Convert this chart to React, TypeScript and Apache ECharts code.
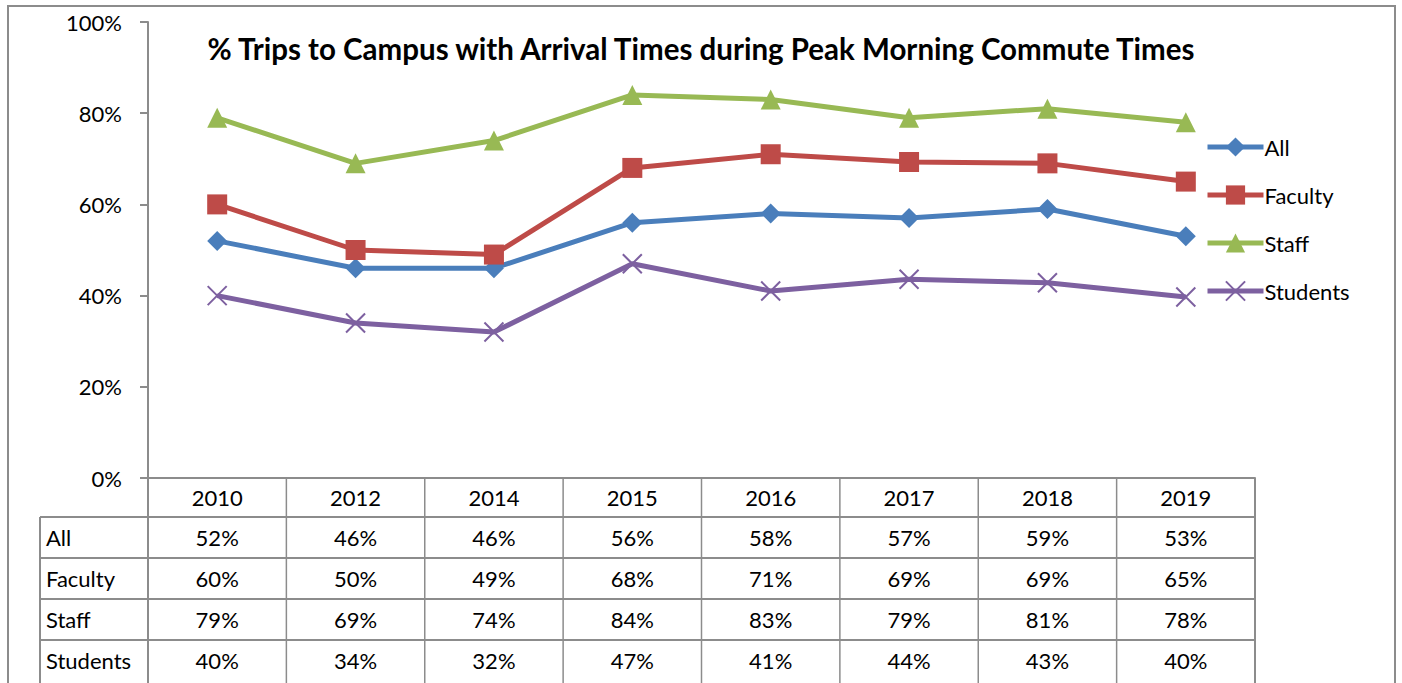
import React, { useEffect, useRef } from "react";
import * as echarts from "echarts";

const years = ["2010", "2012", "2014", "2015", "2016", "2017", "2018", "2019"];
const seriesNames = ["All", "Faculty", "Staff", "Students"];
const allValues = [52, 46, 46, 56, 58, 57, 59, 53];
const facultyValues = [60, 50, 49, 68, 71, 69.3, 69, 65];
const staffValues = [79, 69, 74, 84, 83, 79, 81, 78];
const studentValues = [40, 34, 32, 47, 41, 43.6, 42.8, 39.7];
const seriesColors = ["#4A7EBB", "#BE4B48", "#98B954", "#7D60A0"];
const seriesSymbols = ["diamond", "rect", "triangle", "path://M0,0L10,10M10,0L0,10"];
const seriesSymbolSizes = [20, 20, 20, 19];

const FONT = "Lato, 'Noto Sans', sans-serif";
const W = 1402;
const H = 683;
const GRID_LEFT = 148;
const GRID_RIGHT = 1255;
const GRID_TOP = 22;
const GRID_BOTTOM = 478;
const HEADER_H = 39;
const ROW_H = 41;
const TABLE_LEFT = 40;
const LINE_COLOR = "#8c8c8c";

export default function App() {
  const ref = useRef<HTMLDivElement>(null);
  useEffect(() => {
    document.body.style.margin = "0";
    document.body.style.overflow = "hidden";
    if (!ref.current) return;
    const chart = echarts.init(ref.current, undefined, { renderer: "svg" });
    const values = [allValues, facultyValues, staffValues, studentValues];
    const n = years.length;
    const colW = (GRID_RIGHT - GRID_LEFT) / n;
    const rowsTop = GRID_BOTTOM + HEADER_H;
    const graphics: any[] = [];
    // outer frame
    graphics.push({
      type: "rect",
      shape: { x: 8, y: 6, width: 1387, height: 720 },
      style: { fill: "none", stroke: LINE_COLOR, lineWidth: 2 },
      silent: true,
    });
    // horizontal table lines
    for (let i = 0; i < seriesNames.length; i++) {
      const y = rowsTop + i * ROW_H;
      graphics.push({
        type: "line",
        shape: { x1: TABLE_LEFT, y1: y, x2: GRID_RIGHT, y2: y },
        style: { stroke: LINE_COLOR, lineWidth: 2 },
        silent: true,
      });
    }
    // vertical lines
    graphics.push({
      type: "line",
      shape: { x1: TABLE_LEFT, y1: rowsTop, x2: TABLE_LEFT, y2: H + 5 },
      style: { stroke: LINE_COLOR, lineWidth: 2 },
      silent: true,
    });
    for (let j = 0; j <= n; j++) {
      const x = GRID_LEFT + j * colW;
      graphics.push({
        type: "line",
        shape: { x1: x, y1: GRID_BOTTOM, x2: x, y2: H + 5 },
        style: { stroke: LINE_COLOR, lineWidth: j === 0 || j === n ? 2 : 1.5 },
        silent: true,
      });
    }
    // table text
    for (let i = 0; i < seriesNames.length; i++) {
      const cy = rowsTop + i * ROW_H + ROW_H / 2;
      graphics.push({
        type: "text",
        x: TABLE_LEFT + 6,
        y: cy,
        style: {
          text: seriesNames[i],
          font: `22px ${FONT}`,
          fill: "#000",
          align: "left",
          verticalAlign: "middle",
        },
        silent: true,
      });
      for (let j = 0; j < n; j++) {
        graphics.push({
          type: "text",
          x: GRID_LEFT + (j + 0.5) * colW,
          y: cy,
          style: {
            text: Math.round(values[i][j]) + "%",
            font: `22px ${FONT}`,
            fill: "#000",
            align: "center",
            verticalAlign: "middle",
          },
          silent: true,
        });
      }
    }

    chart.setOption({
      animation: false,
      title: {
        text: "% Trips to Campus with Arrival Times during Peak Morning Commute Times",
        left: "center",
        top: 28,
        textStyle: { fontFamily: FONT, fontSize: 29.5, fontWeight: "bold", color: "#000" },
      },
      legend: {
        orient: "vertical",
        left: 1200,
        top: 131,
        itemWidth: 56,
        itemHeight: 24,
        itemGap: 26,
        data: seriesNames,
        lineStyle: { width: 5 },
        textStyle: { fontFamily: FONT, fontSize: 22, color: "#000", padding: [0, 0, 0, -4] },
      },
      grid: {
        left: GRID_LEFT,
        right: W - GRID_RIGHT,
        top: GRID_TOP,
        bottom: H - GRID_BOTTOM,
        containLabel: false,
      },
      xAxis: {
        type: "category",
        data: years,
        boundaryGap: true,
        axisLine: { show: true, lineStyle: { color: LINE_COLOR, width: 2 } },
        axisTick: { show: false },
        axisLabel: {
          fontFamily: FONT,
          fontSize: 22,
          color: "#000",
          margin: 8,
        },
      },
      yAxis: {
        type: "value",
        min: 0,
        max: 100,
        interval: 20,
        splitLine: { show: false },
        axisLine: { show: true, lineStyle: { color: LINE_COLOR, width: 2 } },
        axisTick: { show: true, length: 8, lineStyle: { color: LINE_COLOR, width: 2 } },
        axisLabel: {
          formatter: "{value}%",
          fontFamily: FONT,
          fontSize: 22,
          color: "#000",
          margin: 26,
        },
      },
      series: seriesNames.map((name, i) => ({
        name,
        type: "line",
        data: values[i],
        symbol: seriesSymbols[i],
        symbolSize: seriesSymbolSizes[i],
        showAllSymbol: true,
        lineStyle: { color: seriesColors[i], width: 5 },
        itemStyle:
          i === 3
            ? { color: seriesColors[i], borderColor: seriesColors[i], borderWidth: 2 }
            : { color: seriesColors[i] },
        emphasis: { disabled: true },
      })),
      graphic: graphics,
    });
    return () => chart.dispose();
  }, []);
  return <div ref={ref} style={{ width: W, height: H }} />;
}
